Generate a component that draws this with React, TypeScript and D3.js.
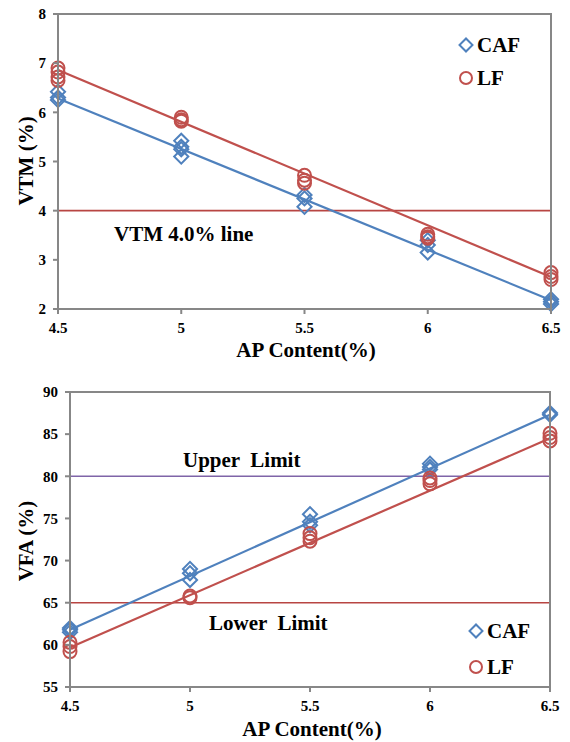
import React from 'react';
import * as d3 from 'd3';

// AP content levels (x axis)
const apContent = [4.5, 5, 5.5, 6, 6.5];

// VTM (%) readings per AP level
const vtmCAF = [
  [6.42, 6.3, 6.25],
  [5.42, 5.3, 5.25, 5.1],
  [4.32, 4.25, 4.08],
  [3.4, 3.3, 3.15],
  [2.2, 2.15, 2.1],
];
const vtmLF = [
  [6.9, 6.82, 6.72, 6.65],
  [5.9, 5.85, 5.82],
  [4.72, 4.62, 4.56],
  [3.52, 3.47, 3.44],
  [2.74, 2.66, 2.6],
];

// VFA (%) readings per AP level
const vfaCAF = [
  [62.0, 61.8, 61.5],
  [69.0, 68.5, 67.7],
  [75.5, 74.6, 74.2],
  [81.5, 81.1, 80.8],
  [87.5, 87.3],
];
const vfaLF = [
  [60.3, 59.8, 59.2],
  [65.8, 65.6],
  [73.2, 72.7, 72.3],
  [79.8, 79.5, 79.1],
  [85.1, 84.6, 84.2],
];

// trendline values at AP 4.5 and 6.5
const trendX = [4.5, 6.5];
const vtmCAFTrend = [6.28, 2.18];
const vtmLFTrend = [6.86, 2.65];
const vfaCAFTrend = [61.8, 87.3];
const vfaLFTrend = [59.7, 84.5];

const xTicks = [4.5, 5, 5.5, 6, 6.5];
const vtmTicks = [2, 3, 4, 5, 6, 7, 8];
const vfaTicks = [55, 60, 65, 70, 75, 80, 85, 90];

const BLUE = '#4F81BD';
const RED = '#C0504D';
const AXIS = '#878787';
const FONT = 'Liberation Serif';

const flat = (groups: number[][]) =>
  groups.flatMap((vals, i) => vals.map(v => [apContent[i], v] as [number, number]));

const diamondPlot = d3.symbol(d3.symbolSquare, 100)();
const diamondLegend = d3.symbol(d3.symbolSquare, 84)();

type Ref = { value: number; color: string };
type Note = { text: string; x: number; y: number };

function Panel({ box, domain, yTicks, caf, lf, cafTrend, lfTrend, refs, notes, yTitle, legend, titleX, titleY }: {
  box: { left: number; right: number; top: number; bottom: number };
  domain: [number, number];
  yTicks: number[];
  caf: number[][];
  lf: number[][];
  cafTrend: number[];
  lfTrend: number[];
  refs: Ref[];
  notes: Note[];
  yTitle: { text: string; x: number; y: number };
  legend: { x: number; y1: number; y2: number };
  titleX: number;
  titleY: number;
}) {
  const x = d3.scaleLinear().domain([4.5, 6.5]).range([box.left, box.right]);
  const y = d3.scaleLinear().domain(domain).range([box.bottom, box.top]);
  const cafPts = flat(caf);
  const lfPts = flat(lf);
  const line = d3.line<number>().x((d, i) => x(trendX[i])).y(d => y(d));

  return (
    <g fontFamily={FONT} fontWeight="bold">
      {refs.map((r, i) => (
        <line key={i} x1={box.left} x2={box.right} y1={y(r.value)} y2={y(r.value)}
          stroke={r.color} strokeWidth={1.6} />
      ))}
      {cafPts.map((p, i) => (
        <path key={'c' + i} d={diamondPlot} transform={`translate(${x(p[0])},${y(p[1])}) rotate(45)`}
          fill="none" stroke={BLUE} strokeWidth={2} />
      ))}
      {lfPts.map((p, i) => (
        <circle key={'l' + i} cx={x(p[0])} cy={y(p[1])} r={6.5} fill="none" stroke={RED} strokeWidth={2} />
      ))}
      <path d={line(cafTrend)!} fill="none" stroke={BLUE} strokeWidth={2.2} />
      <path d={line(lfTrend)!} fill="none" stroke={RED} strokeWidth={2.2} />

      <rect x={box.left} y={box.top} width={box.right - box.left} height={box.bottom - box.top}
        fill="none" stroke={AXIS} strokeWidth={2} />
      {yTicks.map(t => (
        <g key={t}>
          <line x1={box.left - 5} x2={box.left} y1={y(t)} y2={y(t)} stroke={AXIS} strokeWidth={2} />
          <text x={box.left - 12} y={y(t)} dy="0.35em" textAnchor="end" fontSize={15}>{t}</text>
        </g>
      ))}
      {xTicks.map(t => (
        <g key={t}>
          <line x1={x(t)} x2={x(t)} y1={box.bottom} y2={box.bottom + 5} stroke={AXIS} strokeWidth={2} />
          <text x={x(t)} y={box.bottom + 19} dy="0.35em" textAnchor="middle" fontSize={15}>{t}</text>
        </g>
      ))}

      {notes.map((n, i) => (
        <text key={i} x={n.x} y={n.y} fontSize={21} style={{ whiteSpace: 'pre' }}>{n.text}</text>
      ))}

      <path d={diamondLegend} transform={`translate(${legend.x},${legend.y1}) rotate(45)`}
        fill="none" stroke={BLUE} strokeWidth={2} />
      <text x={legend.x + 11} y={legend.y1} dy="0.35em" fontSize={21}>CAF</text>
      <circle cx={legend.x} cy={legend.y2} r={6} fill="none" stroke={RED} strokeWidth={2} />
      <text x={legend.x + 11} y={legend.y2} dy="0.35em" fontSize={21}>LF</text>

      <text x={titleX} y={titleY} textAnchor="middle" fontSize={21}>AP Content(%)</text>
      <text transform={`translate(${yTitle.x},${yTitle.y}) rotate(-90)`} textAnchor="middle"
        fontSize={21}>{yTitle.text}</text>
    </g>
  );
}

export default function App() {
  return (
    <svg width={570} height={742} style={{ position: 'absolute', left: 0, top: 0, background: '#fff' }}>
      <Panel
        box={{ left: 58, right: 551, top: 14, bottom: 309 }}
        domain={[2, 8]}
        yTicks={vtmTicks}
        caf={vtmCAF}
        lf={vtmLF}
        cafTrend={vtmCAFTrend}
        lfTrend={vtmLFTrend}
        refs={[{ value: 4, color: '#B84542' }]}
        notes={[{ text: 'VTM 4.0% line', x: 114, y: 241 }]}
        yTitle={{ text: 'VTM (%)', x: 33, y: 161 }}
        legend={{ x: 466, y1: 45, y2: 78 }}
        titleX={306}
        titleY={357}
      />
      <Panel
        box={{ left: 70, right: 550, top: 392, bottom: 687 }}
        domain={[55, 90]}
        yTicks={vfaTicks}
        caf={vfaCAF}
        lf={vfaLF}
        cafTrend={vfaCAFTrend}
        lfTrend={vfaLFTrend}
        refs={[{ value: 80, color: '#7F64A8' }, { value: 65, color: '#B84542' }]}
        notes={[
          { text: 'Upper  Limit', x: 183, y: 467 },
          { text: 'Lower  Limit', x: 209, y: 630 },
        ]}
        yTitle={{ text: 'VFA (%)', x: 33, y: 541 }}
        legend={{ x: 476, y1: 631, y2: 667 }}
        titleX={312}
        titleY={736}
      />
    </svg>
  );
}
